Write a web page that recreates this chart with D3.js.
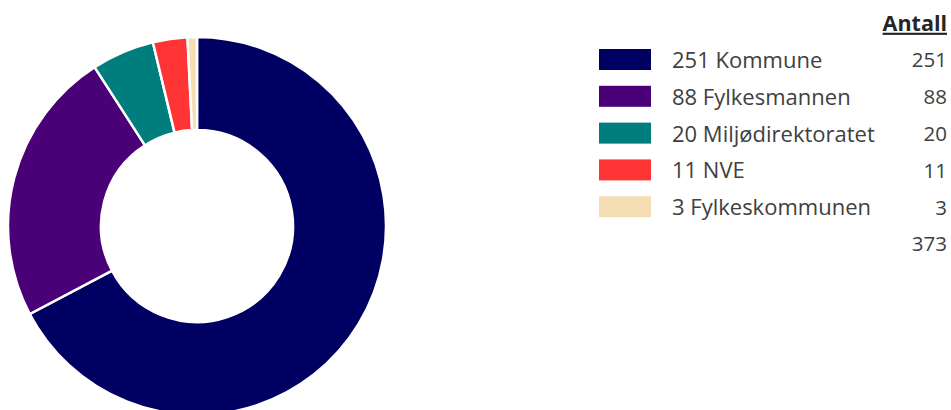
<!DOCTYPE html>
<html><head><meta charset="utf-8">
<script src="https://cdn.jsdelivr.net/npm/d3@7"></script>
<style>
html,body{margin:0;padding:0;background:#fff;overflow:hidden;}
text{font-family:"Open Sans","Segoe UI",sans-serif;}
</style></head>
<body>
<svg id="c" width="951" height="410"></svg>
<script>
const categories = ["251 Kommune","88 Fylkesmannen","20 Miljødirektoratet","11 NVE","3 Fylkeskommunen"];
const values = [251, 88, 20, 11, 3];
const colors = ["#000062","#4a0077","#007e7e","#ff3535","#f5deb3"];
const header = "Antall";

const svg = d3.select("#c");
const cx = 197, cy = 226, R = 189, r = 96;
const pie = d3.pie().sort(null).value(d => d)(values);
const arc = d3.arc().innerRadius(r).outerRadius(R);
const g = svg.append("g").attr("transform", `translate(${cx},${cy})`);
g.selectAll("path").data(pie).join("path")
  .attr("d", arc)
  .attr("fill", (d,i) => colors[i])
  .attr("stroke", "#fff").attr("stroke-width", 2.5).attr("stroke-linejoin","miter");

const y = d3.scalePoint().domain(d3.range(categories.length + 1)).range([60, 244]);
const lg = svg.append("g");
lg.selectAll("rect").data(categories).join("rect")
  .attr("x", 599).attr("y", (d,i) => y(i) - 11).attr("width", 52).attr("height", 21)
  .attr("fill", (d,i) => colors[i]);
lg.selectAll("text.lab").data(categories).join("text").attr("class","lab")
  .attr("x", 672).attr("y", (d,i) => y(i)).attr("dy", "0.36em")
  .attr("font-size", 22).attr("fill", "#404040").text(d => d);
lg.selectAll("text.val").data(values).join("text").attr("class","val")
  .attr("x", 947).attr("y", (d,i) => y(i)).attr("dy", "0.36em").attr("text-anchor","end")
  .attr("font-size", 20.5).attr("fill", "#404040").text(d => d);
lg.append("text").attr("x", 947).attr("y", y(categories.length)).attr("dy", "0.36em")
  .attr("text-anchor","end").attr("font-size", 20.5).attr("fill", "#404040")
  .text(d3.sum(values));
lg.append("text").attr("x", 947).attr("y", 23).attr("dy", "0.36em")
  .attr("text-anchor","end").attr("font-size", 21.5).attr("font-weight","bold")
  .attr("text-decoration","underline").attr("fill", "#252525").text(header);
</script>
</body></html>
